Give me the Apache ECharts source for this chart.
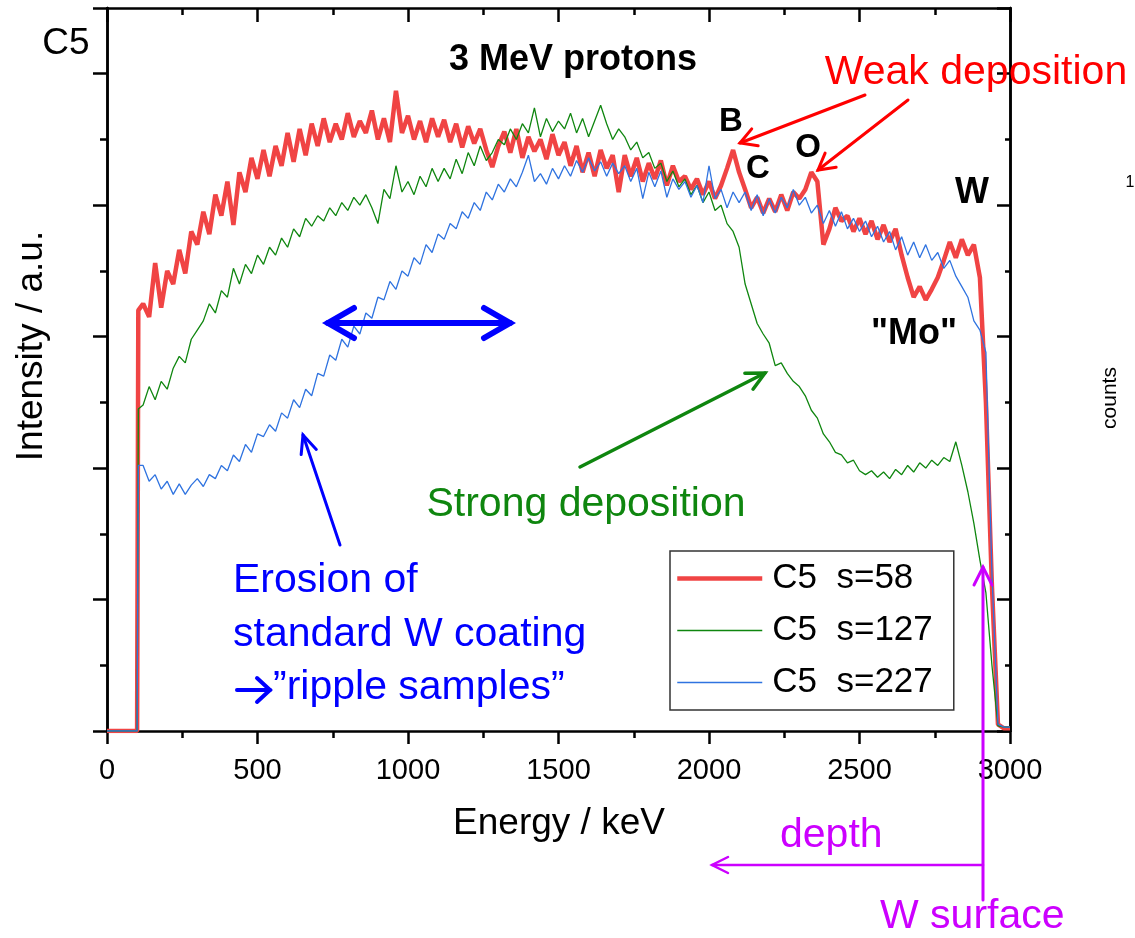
<!DOCTYPE html>
<html lang="en">
<head>
<meta charset="UTF-8">
<title>C5 proton spectra</title>
<script src="https://cdn.jsdelivr.net/npm/echarts@6/dist/echarts.min.js"></script>
<style>html,body{margin:0;padding:0;background:#fff;}</style>
</head>
<body>
<div id="main" style="width:1135px;height:938px;"></div>
<script>
// energy grid (keV)
var energy = [0, 100, 104,
    120,140,160,180,200,220,240,260,280,300,
    320,340,360,380,400,420,440,460,480,500,
    520,540,560,580,600,620,640,660,680,700,
    720,740,760,780,800,820,840,860,880,900,
    920,940,960,980,1000,1020,1040,1060,1080,1100,
    1120,1140,1160,1180,1200,1220,1240,1260,1280,1300,
    1320,1340,1360,1380,1400,1420,1440,1460,1480,1500,
    1520,1540,1560,1580,1600,1620,1640,1660,1680,1700,
    1720,1740,1760,1780,1800,1820,1840,1860,1880,1900,
    1920,1940,1960,1980,2000,2020,2040,2060,2080,2100,
    2120,2140,2160,2180,2200,2220,2240,2260,2280,2300,
    2320,2340,2360,2380,2400,2420,2440,2460,2480,2500,
    2520,2540,2560,2580,2600,2620,2640,2660,2680,2700,
    2720,2740,2760,2780,2800,2820,2840,2860,2880,
    2900,2920,2940,2960,2980,3000];

// intensity (a.u.)
var s58 = [0, 0, 3.20,
    3.25,3.15,3.56,3.22,3.50,3.40,3.66,3.48,3.80,3.70,
    3.95,3.78,4.08,3.92,4.18,3.85,4.25,4.10,4.36,4.20,
    4.42,4.22,4.45,4.30,4.55,4.33,4.58,4.38,4.62,4.45,
    4.66,4.48,4.62,4.50,4.70,4.52,4.64,4.55,4.72,4.50,
    4.66,4.48,4.87,4.55,4.68,4.50,4.64,4.48,4.66,4.52,
    4.65,4.48,4.62,4.44,4.60,4.47,4.58,4.42,4.29,4.45,
    4.56,4.40,4.58,4.36,4.52,4.41,4.50,4.35,4.54,4.38,
    4.48,4.30,4.45,4.25,4.40,4.22,4.42,4.28,4.38,4.10,
    4.38,4.22,4.36,4.18,4.32,4.20,4.34,4.15,4.30,4.18,
    4.22,4.12,4.20,4.08,4.18,4.05,4.15,4.28,4.42,4.25,
    4.12,3.98,4.06,3.94,4.05,3.95,4.08,3.96,4.10,4.05,
    4.12,4.25,4.18,3.70,3.82,3.98,3.88,3.92,3.80,3.90,
    3.78,3.88,3.74,3.85,3.72,3.82,3.62,3.45,3.30,3.38,
    3.28,3.36,3.45,3.58,3.72,3.60,3.74,3.62,3.70,
    3.45,2.50,1.10,0.05,0.02,0.02];

var s127 = [0, 0, 2.45,
    2.48,2.62,2.52,2.66,2.60,2.76,2.85,2.80,2.98,3.05,
    3.12,3.25,3.18,3.35,3.30,3.52,3.40,3.55,3.48,3.62,
    3.55,3.68,3.62,3.75,3.68,3.82,3.76,3.90,3.84,3.92,
    3.88,3.98,3.92,4.02,3.96,4.06,4.00,4.08,3.98,3.86,
    4.12,4.05,4.30,4.10,4.18,4.08,4.22,4.14,4.28,4.18,
    4.28,4.20,4.35,4.24,4.40,4.30,4.45,4.34,4.40,4.50,
    4.46,4.58,4.50,4.62,4.55,4.74,4.52,4.66,4.56,4.64,
    4.58,4.70,4.55,4.66,4.52,4.64,4.76,4.62,4.50,4.58,
    4.52,4.42,4.48,4.36,4.40,4.28,4.32,4.18,4.26,4.14,
    4.20,4.08,4.15,4.02,4.10,3.96,4.00,3.86,3.80,3.68,
    3.40,3.25,3.10,3.02,2.95,2.78,2.80,2.72,2.66,2.62,
    2.55,2.44,2.38,2.26,2.20,2.12,2.10,2.04,2.06,1.98,
    1.95,1.98,1.93,1.97,1.92,1.99,1.95,2.02,1.97,2.04,
    2.00,2.06,2.02,2.08,2.05,2.20,2.02,1.82,1.58,
    1.30,1.05,0.50,0.04,0.03,0.03];

var s227 = [0, 0, 2.02,
    2.02,1.90,1.95,1.84,1.90,1.80,1.88,1.80,1.87,1.92,
    1.86,1.95,1.92,2.02,1.98,2.10,2.05,2.18,2.12,2.26,
    2.24,2.33,2.28,2.42,2.38,2.52,2.46,2.60,2.55,2.72,
    2.70,2.86,2.82,2.98,2.92,3.08,3.02,3.18,3.14,3.30,
    3.28,3.42,3.36,3.50,3.46,3.60,3.55,3.70,3.64,3.78,
    3.74,3.86,3.82,3.95,3.90,4.02,3.96,4.10,4.04,4.16,
    4.10,4.20,4.14,4.25,4.38,4.18,4.24,4.16,4.28,4.20,
    4.30,4.22,4.34,4.25,4.36,4.26,4.33,4.22,4.32,4.24,
    4.30,4.18,4.28,4.05,4.25,4.14,4.26,4.06,4.20,4.12,
    4.18,4.06,4.15,4.02,4.30,4.05,4.12,3.98,4.10,4.02,
    4.10,3.96,4.08,3.92,4.05,3.94,4.06,3.98,4.12,4.00,
    4.06,3.94,4.00,3.86,3.96,3.84,3.95,3.82,3.90,3.80,
    3.88,3.76,3.84,3.72,3.80,3.66,3.76,3.62,3.72,3.60,
    3.70,3.58,3.64,3.52,3.58,3.46,3.38,3.30,3.12,
    3.05,2.88,1.20,0.05,0.03,0.03];

var seriesNames = ['C5  s=58', 'C5  s=127', 'C5  s=227'];
var seriesColors = ['#f04444', '#0f860f', '#2f73e0'];
var seriesWidths = [4.5, 1.3, 1.3];

var FONT = '"Liberation Sans", Arial, sans-serif';

function pairs(vals) {
    return energy.map(function (e, i) { return [e, vals[i]]; });
}

function txt(s, x, y, size, color, opts) {
    opts = opts || {};
    return {
        type: 'text', x: x, y: y, z: 100,
        rotation: opts.rot || 0,
        style: {
            text: s,
            fill: color,
            font: (opts.bold ? 'bold ' : '') + size + 'px ' + FONT,
            align: opts.align || 'center',
            verticalAlign: 'middle'
        }
    };
}

function arrow(x1, y1, x2, y2, color, w, len, half, both) {
    var els = [{
        type: 'line', z: 100,
        shape: {x1: x1, y1: y1, x2: x2, y2: y2},
        style: {stroke: color, lineWidth: w, lineCap: 'round'}
    }];
    function head(tx, ty, fx, fy) {
        var dx = tx - fx, dy = ty - fy, d = Math.sqrt(dx * dx + dy * dy);
        dx /= d; dy /= d;
        var bx = tx - dx * len, by = ty - dy * len;
        els.push({
            type: 'polyline', z: 100,
            shape: {points: [[bx - dy * half, by + dx * half], [tx, ty], [bx + dy * half, by - dx * half]]},
            style: {stroke: color, lineWidth: w, fill: null, lineCap: 'round', lineJoin: 'miter'}
        });
    }
    head(x2, y2, x1, y1);
    if (both) head(x1, y1, x2, y2);
    return els;
}

var myChart = echarts.init(document.getElementById('main'), null, {renderer: 'canvas'});

var axisLine = {show: true, onZero: false, lineStyle: {color: '#000', width: 2.5}};

var graphics = [].concat(
    txt('C5', 66, 44, 37, '#000'),
    txt('3 MeV protons', 573, 60, 36, '#000', {bold: true}),
    txt('B', 731, 122, 33, '#000', {bold: true}),
    txt('C', 758, 169, 33, '#000', {bold: true}),
    txt('O', 808, 148, 33, '#000', {bold: true}),
    txt('W', 972, 193, 36, '#000', {bold: true}),
    txt('"Mo"', 914, 334, 36, '#000', {bold: true}),
    txt('Weak deposition', 976, 73, 41, '#ff0000'),
    txt('Strong deposition', 586, 505, 41, '#0f860f'),
    txt('Erosion of', 233, 581, 41, '#0000ff', {align: 'left'}),
    txt('standard W coating', 233, 635, 41, '#0000ff', {align: 'left'}),
    txt('\u201dripple samples\u201d', 273, 688, 41, '#0000ff', {align: 'left'}),
    arrow(237, 690, 270, 690, '#0000ff', 4, 13, 12, false),
    txt('depth', 780, 836, 41, '#cc00ff', {align: 'left'}),
    txt('W surface', 880, 917, 41, '#cc00ff', {align: 'left'}),
    txt('Energy / keV', 559, 824, 37, '#000'),
    txt('Intensity / a.u.', 32, 346, 37, '#000', {rot: Math.PI / 2}),
    txt('1', 1130, 183, 16, '#000'),
    txt('counts', 1110, 398, 21, '#000', {rot: Math.PI / 2}),
    arrow(865, 95, 740, 143, '#ff0000', 3, 16, 9, false),
    arrow(908, 100, 818, 170, '#ff0000', 3, 16, 9, false),
    arrow(328, 323, 510, 323, '#0000ff', 6, 26, 15, true),
    arrow(340, 545, 303, 435, '#0000ff', 3, 18, 8, false),
    arrow(580, 467, 765, 373, '#0f860f', 3.5, 18, 9, false),
    arrow(983, 900, 983, 567, '#cc00ff', 3, 18, 9, false),
    arrow(983, 865, 712, 865, '#cc00ff', 2.5, 16, 8, false)
);

var option = {
    animation: false,
    color: seriesColors,
    textStyle: {fontFamily: FONT},
    grid: {left: 107, right: 125, top: 8, bottom: 207, containLabel: false, outerBoundsMode: 'none'},
    legend: {
        orient: 'vertical',
        left: 670, top: 551,
        padding: [10, 21, 10, 5],
        itemWidth: 85, itemHeight: 30, itemGap: 17,
        borderColor: '#333', borderWidth: 1.5, borderRadius: 0,
        backgroundColor: '#fff',
        itemStyle: {opacity: 0},
        textStyle: {fontSize: 35, color: '#000', fontFamily: FONT, lineHeight: 30, padding: [0, 0, 0, 5]},
        data: seriesNames.map(function (n, i) {
            return {name: n, lineStyle: {width: seriesWidths[i], color: seriesColors[i]}};
        })
    },
    xAxis: [{
        type: 'value', position: 'bottom', min: 0, max: 3000, interval: 500,
        axisLine: axisLine,
        axisTick: {show: true, inside: false, length: 13, lineStyle: {color: '#000', width: 2.5}},
        minorTick: {show: true, splitNumber: 2, length: 7, lineStyle: {color: '#000', width: 2.5}},
        axisLabel: {show: true, fontSize: 29, color: '#000', margin: 25, fontFamily: FONT,
            formatter: function (v) { return String(v); }},
        splitLine: {show: false}
    }, {
        type: 'value', position: 'top', min: 0, max: 3000, interval: 500,
        axisLine: axisLine,
        axisTick: {show: true, inside: true, length: 14, lineStyle: {color: '#000', width: 2.5}},
        minorTick: {show: true, splitNumber: 2, length: 7, lineStyle: {color: '#000', width: 2.5}},
        axisLabel: {show: false},
        splitLine: {show: false}
    }],
    yAxis: [{
        type: 'value', position: 'left', min: 0, max: 5.5, interval: 1,
        axisLine: axisLine,
        axisTick: {show: true, inside: false, length: 14, lineStyle: {color: '#000', width: 2.5}},
        axisLabel: {show: false},
        splitLine: {show: false}
    }, {
        type: 'value', position: 'left', min: 0, max: 5.5, interval: 0.5,
        axisLine: axisLine,
        axisTick: {show: true, inside: false, length: 7, lineStyle: {color: '#000', width: 2.5}},
        axisLabel: {show: false},
        splitLine: {show: false}
    }, {
        type: 'value', position: 'right', min: 0, max: 5.5, interval: 1,
        axisLine: axisLine,
        axisTick: {show: true, inside: true, length: 13, lineStyle: {color: '#000', width: 2.5}},
        axisLabel: {show: false},
        splitLine: {show: false}
    }, {
        type: 'value', position: 'right', min: 0, max: 5.5, interval: 0.5,
        axisLine: axisLine,
        axisTick: {show: true, inside: true, length: 5, lineStyle: {color: '#000', width: 2.5}},
        axisLabel: {show: false},
        splitLine: {show: false}
    }],
    series: [s58, s127, s227].map(function (vals, i) {
        return {
            name: seriesNames[i], type: 'line', symbol: 'none', xAxisIndex: 0, yAxisIndex: 0,
            lineStyle: {width: seriesWidths[i], color: seriesColors[i]},
            data: pairs(vals)
        };
    }),
    graphic: graphics
};
myChart.setOption(option);
</script>
</body>
</html>
